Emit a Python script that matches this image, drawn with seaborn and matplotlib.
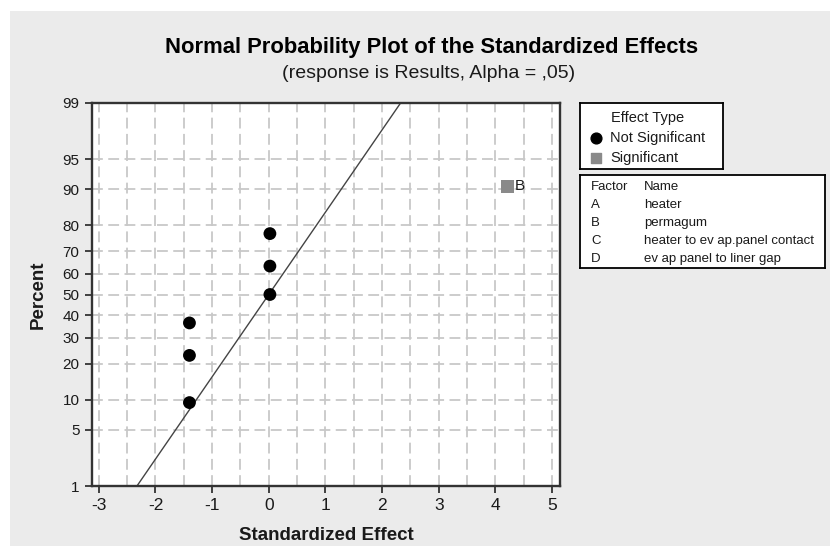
from statistics import NormalDist

import matplotlib
matplotlib.use('Agg')
import matplotlib.pyplot as plt
from matplotlib.patches import Rectangle
import pandas as pd
import seaborn as sns

# Effects (standardized) and their normal plotting positions (percent)
effect_values = [-1.40, -1.40, -1.40, 0.02, 0.02, 0.02, 4.22]
effect_percent = [9.46, 22.97, 36.49, 50.0, 63.51, 77.03, 90.54]
effect_type = ['Not Significant'] * 6 + ['Significant']
effect_label = ['', '', '', '', '', '', 'B']

# Reference line: effect = sigma * z, drawn from 1% to 99%
line_sigma = 1.0
line_percent = [1, 99]

y_ticks = [1, 5, 10, 20, 30, 40, 50, 60, 70, 80, 90, 95, 99]
x_ticks = [-3, -2, -1, 0, 1, 2, 3, 4, 5]

factors = ['A', 'B', 'C', 'D']
factor_names = ['heater', 'permagum', 'heater to ev ap.panel contact', 'ev ap panel to liner gap']

nd = NormalDist()


def z(p):
    return nd.inv_cdf(p / 100.0)


df = pd.DataFrame({'effect': effect_values,
                   'z': [z(p) for p in effect_percent],
                   'type': effect_type,
                   'label': effect_label})
line_df = pd.DataFrame({'z': [z(p) for p in line_percent]})
line_df['effect'] = line_df['z'] * line_sigma

sns.set_theme(style='white')
plt.rcParams['font.family'] = ['Liberation Sans', 'DejaVu Sans']

bg = '#ebebeb'
grid_c = '#c8c8c8'
sig_c = '#8a8a8a'
txt_c = '#1a1a1a'

fig = plt.figure(figsize=(8.3, 5.46), dpi=100)
fig.patch.set_facecolor('white')
fig.patches.append(Rectangle((10 / 830, 0), 1, 535 / 546, transform=fig.transFigure,
                             facecolor=bg, edgecolor='none', zorder=-10))

ax = fig.add_axes([92 / 830, 60 / 546, 468 / 830, 383 / 546])
ax.set_facecolor('white')

# grid
for gx in [v / 2 for v in range(-6, 11)]:
    ax.axvline(gx, color=grid_c, lw=1.3, ls=(0, (6, 3)), zorder=0)
for p in y_ticks[1:-1]:
    ax.axhline(z(p), color=grid_c, lw=1.3, ls=(0, (6, 3)), zorder=0)

sns.lineplot(data=line_df, x='effect', y='z', color='#444444', lw=1.0, ax=ax,
             sort=False, zorder=2)
sns.scatterplot(data=df, x='effect', y='z', hue='type', style='type',
                palette={'Not Significant': 'black', 'Significant': sig_c},
                markers={'Not Significant': 'o', 'Significant': 's'},
                s=85, edgecolor='none', legend=False, ax=ax, zorder=3)
for _, r in df.iterrows():
    if r['label']:
        ax.text(r['effect'] + 0.12, r['z'], r['label'], va='center', ha='left',
                fontsize=11, color=txt_c)

ax.set_xlim(-3.12, 5.14)
ax.set_ylim(z(1), z(99))
ax.set_xticks(x_ticks)
ax.set_xticklabels([str(v) for v in x_ticks], fontsize=12.5)
ax.set_yticks([z(p) for p in y_ticks])
ax.set_yticklabels([str(p) for p in y_ticks], fontsize=11)
ax.tick_params(axis='both', direction='out', length=5, width=1.3, color='#333333',
               left=True, bottom=True, pad=4, labelcolor=txt_c)
for s in ax.spines.values():
    s.set_color('#333333')
    s.set_linewidth(1.7)
ax.set_xlabel('Standardized Effect', fontsize=13.5, fontweight='bold', labelpad=10,
              color=txt_c)
ax.set_ylabel('Percent', fontsize=13.5, fontweight='bold', labelpad=11, color=txt_c)

fig.text(0.52, 1 - 47 / 546, 'Normal Probability Plot of the Standardized Effects',
         ha='center', va='center', fontsize=15.8, fontweight='bold', color='black')
fig.text(0.516, 1 - 73 / 546, '(response is Results, Alpha = ,05)',
         ha='center', va='center', fontsize=14, color=txt_c)

# legend box 1: effect type
lg1 = fig.add_axes([580 / 830, 1 - 169 / 546, 143 / 830, 66 / 546])
lg1.set_xlim(0, 143)
lg1.set_ylim(66, 0)
lg1.set_xticks([])
lg1.set_yticks([])
lg1.set_facecolor('white')
for s in lg1.spines.values():
    s.set_color('black')
    s.set_linewidth(1.3)
lg1.text(31, 15, 'Effect Type', fontsize=10.5, va='center', ha='left', color=txt_c)
lg1.scatter([16], [35], s=60, color='black', marker='o')
lg1.text(30, 35, 'Not Significant', fontsize=10.5, va='center', ha='left', color=txt_c)
lg1.scatter([16], [55], s=42, color=sig_c, marker='s')
lg1.text(30, 55, 'Significant', fontsize=10.5, va='center', ha='left', color=txt_c)

# legend box 2: factor names
lg2 = fig.add_axes([580 / 830, 1 - 268 / 546, 245 / 830, 93 / 546])
lg2.set_xlim(0, 245)
lg2.set_ylim(93, 0)
lg2.set_xticks([])
lg2.set_yticks([])
lg2.set_facecolor('white')
for s in lg2.spines.values():
    s.set_color('black')
    s.set_linewidth(1.3)
lg2.text(11, 12, 'Factor', fontsize=9.5, va='center', ha='left', color=txt_c)
lg2.text(64, 12, 'Name', fontsize=9.5, va='center', ha='left', color=txt_c)
for i, (f, n) in enumerate(zip(factors, factor_names)):
    lg2.text(11, 30 + 18 * i, f, fontsize=9.5, va='center', ha='left', color=txt_c)
    lg2.text(64, 30 + 18 * i, n, fontsize=9.5, va='center', ha='left', color=txt_c)

fig.savefig('out.png', dpi=100)
